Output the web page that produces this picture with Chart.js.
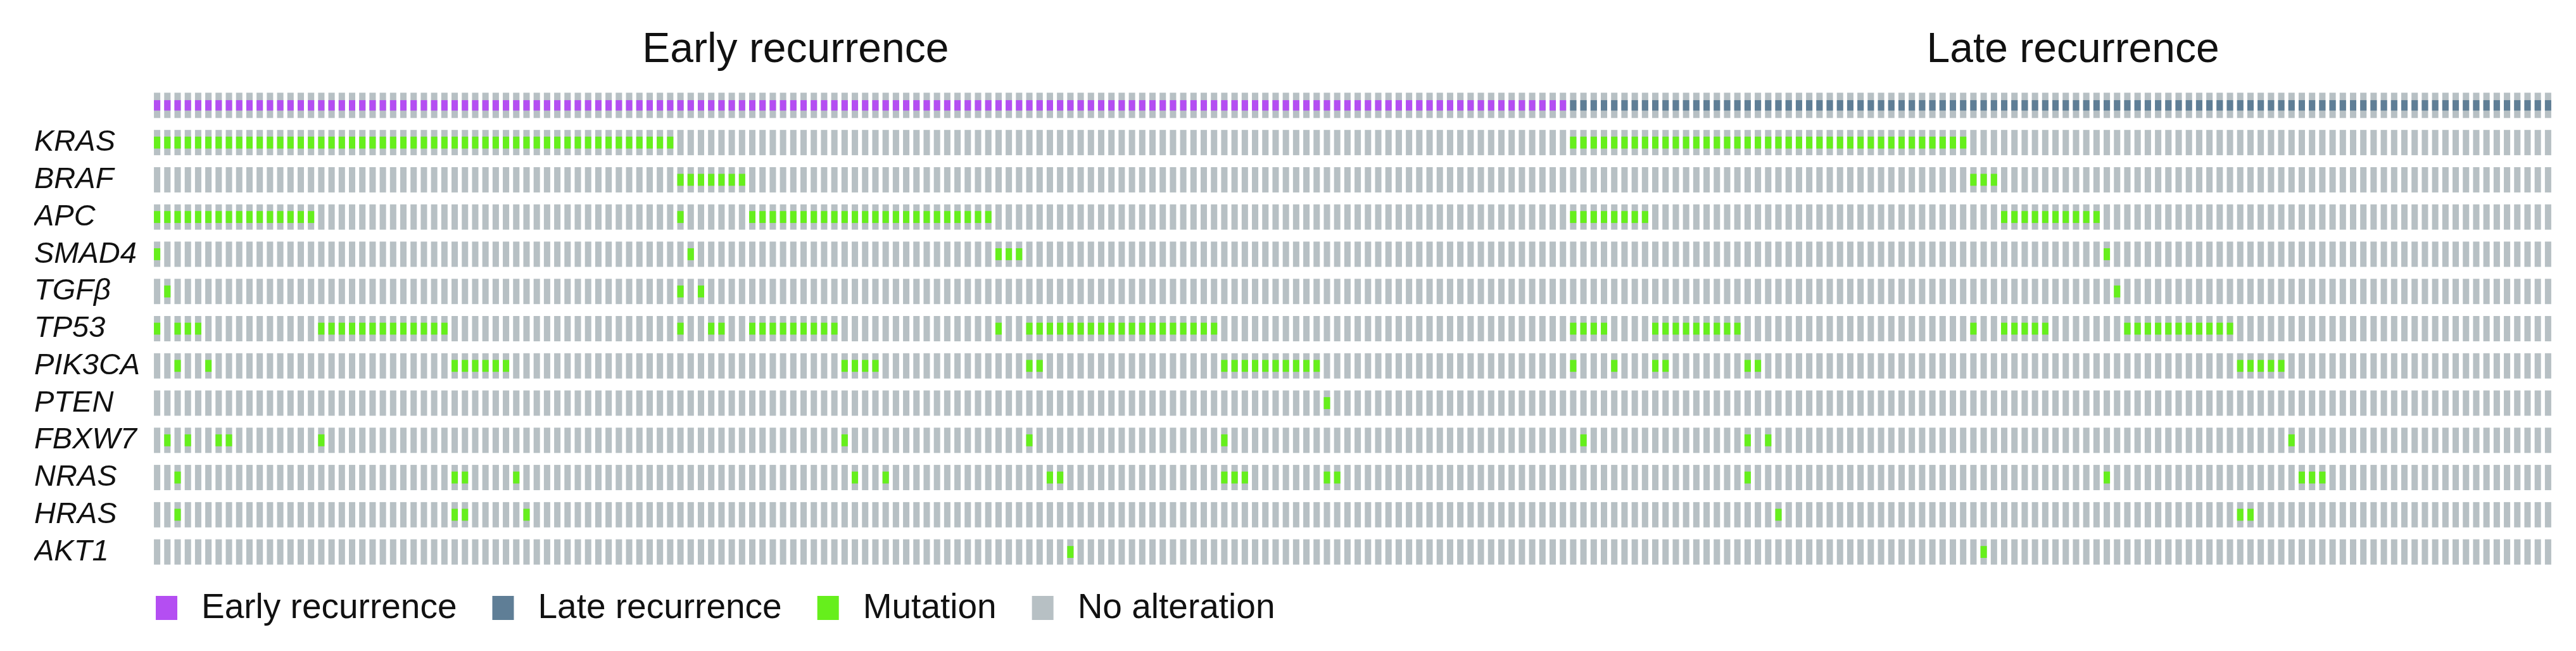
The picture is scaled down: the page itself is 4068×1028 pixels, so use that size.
<!DOCTYPE html>
<html>
<head>
<meta charset="utf-8">
<title>Oncoprint - early vs late recurrence</title>
<script src="https://cdn.jsdelivr.net/npm/chart.js@4.4.0/dist/chart.umd.min.js"></script>
<style>
  html,body{margin:0;padding:0;background:#fff;}
  #wrap{width:4068px;height:1028px;position:relative;}
</style>
</head>
<body>
<div id="wrap"><canvas id="oncoprint"></canvas></div>
<script>
// rows of the oncoprint (top row is the recurrence annotation)
var genes = ['KRAS','BRAF','APC','SMAD4','TGF\u03B2','TP53','PIK3CA','PTEN','FBXW7','NRAS','HRAS','AKT1'];
var groupNames = ['Early recurrence','Late recurrence'];
var groupSizes = [138, 96];
var legendNames = ['Early recurrence','Late recurrence','Mutation','No alteration'];

// mutated samples per gene, column index (0 = first early sample, 138 = first late sample)
var KRAS = [0,1,2,3,4,5,6,7,8,9,10,11,12,13,14,15,16,17,18,19,20,21,22,23,24,25,26,27,28,29,30,31,32,33,34,35,36,37,38,39,40,41,42,43,44,45,46,47,48,49,50,
  138,139,140,141,142,143,144,145,146,147,148,149,150,151,152,153,154,155,156,157,158,159,160,161,162,163,164,165,166,167,168,169,170,171,172,173,174,175,176];
var BRAF = [51,52,53,54,55,56,57,177,178,179];
var APC = [0,1,2,3,4,5,6,7,8,9,10,11,12,13,14,15,51,58,59,60,61,62,63,64,65,66,67,68,69,70,71,72,73,74,75,76,77,78,79,80,81,
  138,139,140,141,142,143,144,145,180,181,182,183,184,185,186,187,188,189];
var SMAD4 = [0,52,82,83,84,190];
var TGFB = [1,51,53,191];
var TP53 = [0,2,3,4,16,17,18,19,20,21,22,23,24,25,26,27,28,51,54,55,58,59,60,61,62,63,64,65,66,82,
  85,86,87,88,89,90,91,92,93,94,95,96,97,98,99,100,101,102,103,
  138,139,140,141,146,147,148,149,150,151,152,153,154,177,180,181,182,183,184,192,193,194,195,196,197,198,199,200,201,202];
var PIK3CA = [2,5,29,30,31,32,33,34,67,68,69,70,85,86,104,105,106,107,108,109,110,111,112,113,138,142,146,147,155,156,203,204,205,206,207];
var PTEN = [114];
var FBXW7 = [1,3,6,7,16,67,85,104,139,155,157,208];
var NRAS = [2,29,30,35,68,71,87,88,104,105,106,114,115,155,190,209,210,211];
var HRAS = [2,29,30,36,158,203,204];
var AKT1 = [89,178];
var mutations = [KRAS,BRAF,APC,SMAD4,TGFB,TP53,PIK3CA,PTEN,FBXW7,NRAS,HRAS,AKT1];

var colEarly = '#b44ef2', colLate = '#5f7e96', colMut = '#66ef1c', colNone = '#b7c0c4';
var legendColors = [colEarly, colLate, colMut, colNone];
var FONT = '"Liberation Sans", Arial, Helvetica, sans-serif';

// sample ids and cells
var samples = [];
var nTotal = groupSizes[0] + groupSizes[1];
for (var i = 0; i < nTotal; i++) samples.push('S' + (i + 1));

var rowLabels = [''].concat(genes);
var bgCells = [], mutCells = [], earlyCells = [], lateCells = [];
for (var r = 0; r < rowLabels.length; r++) {
  for (var i = 0; i < nTotal; i++) bgCells.push({x: samples[i], y: [r - 0.34, r + 0.34]});
}
for (var g = 0; g < genes.length; g++) {
  var cols = mutations[g];
  for (var k = 0; k < cols.length; k++) mutCells.push({x: samples[cols[k]], y: [g + 1 - 0.16, g + 1 + 0.16]});
}
for (var i = 0; i < nTotal; i++) {
  if (i < groupSizes[0]) earlyCells.push({x: samples[i], y: [-0.14, 0.14]});
  else lateCells.push({x: samples[i], y: [-0.14, 0.14]});
}

// titles over the two groups + legend under the grid
var decor = {
  id: 'decor',
  afterDraw: function(chart) {
    var ctx = chart.ctx, a = chart.chartArea, w = a.right - a.left;
    ctx.save();
    ctx.fillStyle = '#111';
    ctx.font = '66px ' + FONT;
    ctx.textAlign = 'center';
    ctx.textBaseline = 'alphabetic';
    ctx.fillText(groupNames[0], a.left + w * 0.268, 98);
    ctx.fillText(groupNames[1], a.left + w * 0.800, 98);

    ctx.font = '55px ' + FONT;
    ctx.textAlign = 'left';
    ctx.textBaseline = 'middle';
    var x = a.left + 6, y = 960;
    for (var j = 0; j < legendNames.length; j++) {
      ctx.fillStyle = legendColors[j];
      ctx.fillRect(x, y - 19, 34, 38);
      ctx.fillStyle = '#111';
      ctx.fillText(legendNames[j], x + 72, y + 1);
      x += 72 + ctx.measureText(legendNames[j]).width + 56;
    }
    ctx.restore();
  }
};

new Chart(document.getElementById('oncoprint'), {
  type: 'bar',
  data: {
    labels: samples,
    datasets: [
      {label: legendNames[0], data: earlyCells, backgroundColor: colEarly, order: 0},
      {label: legendNames[1], data: lateCells, backgroundColor: colLate, order: 0},
      {label: legendNames[2], data: mutCells, backgroundColor: colMut, order: 0},
      {label: legendNames[3], data: bgCells, backgroundColor: colNone, order: 1}
    ]
  },
  options: {
    responsive: true,
    maintainAspectRatio: false,
    animation: false,
    events: [],
    layout: {padding: {left: 54, right: 36, top: 137, bottom: 127}},
    datasets: {bar: {grouped: false, categoryPercentage: 1, barPercentage: 0.62, borderWidth: 0}},
    plugins: {legend: {display: false}, title: {display: false}, tooltip: {enabled: false}},
    scales: {
      x: {type: 'category', display: false, offset: true, grid: {display: false}},
      y: {
        type: 'linear',
        reverse: true,
        min: -0.5,
        max: 12.5,
        grid: {display: false},
        border: {display: false},
        afterBuildTicks: function(axis) {
          axis.ticks = rowLabels.map(function(l, idx) { return {value: idx}; });
        },
        afterFit: function(axis) { axis.width = 186; },
        ticks: {
          autoSkip: false,
          crossAlign: 'far',
          padding: 0,
          color: '#111',
          font: {family: FONT, size: 47, style: 'italic'},
          callback: function(v) { return rowLabels[v]; }
        }
      }
    }
  },
  plugins: [decor]
});
</script>
</body>
</html>
